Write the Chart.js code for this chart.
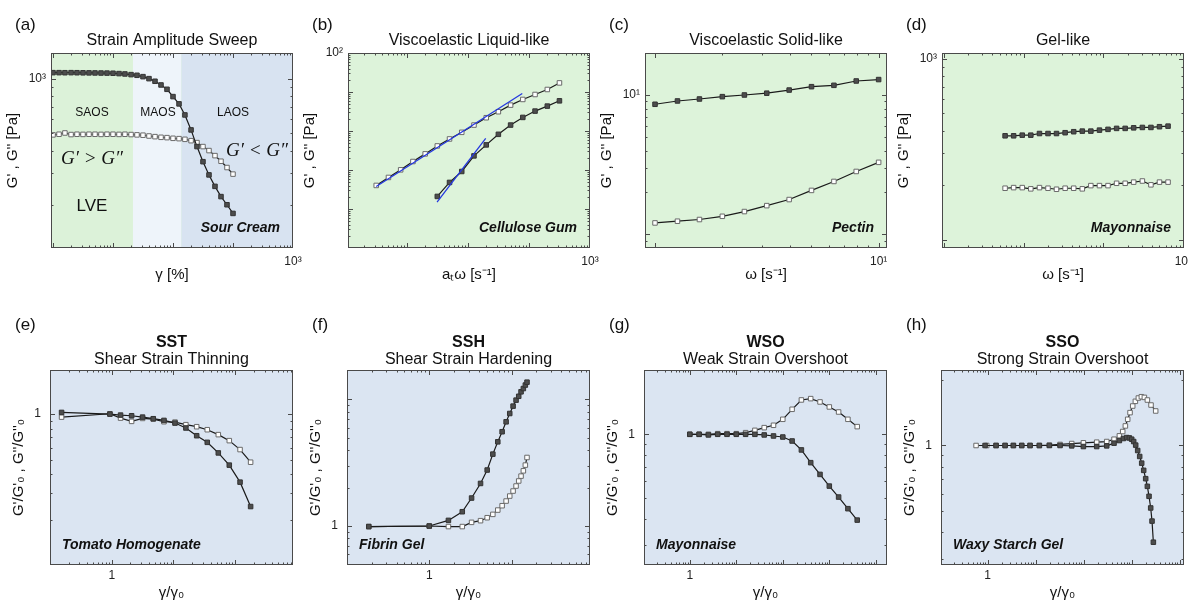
<!DOCTYPE html>
<html>
<head>
<meta charset="utf-8">
<script src="https://cdn.jsdelivr.net/npm/chart.js@4.4.1/dist/chart.umd.min.js"></script>
<style>
  body { margin: 0; background: #fff; width: 1188px; height: 606px; overflow: hidden; position: relative; }
  .panel { position: absolute; width: 305px; height: 303px; }
</style>
</head>
<body>
<div class="panel" style="left:0;top:0"><canvas id="pa" width="305" height="303"></canvas></div>
<div class="panel" style="left:297px;top:0"><canvas id="pb" width="305" height="303"></canvas></div>
<div class="panel" style="left:594px;top:0"><canvas id="pc" width="305" height="303"></canvas></div>
<div class="panel" style="left:891px;top:0"><canvas id="pd" width="305" height="303"></canvas></div>
<div class="panel" style="left:0;top:303px"><canvas id="pe" width="305" height="303"></canvas></div>
<div class="panel" style="left:297px;top:303px"><canvas id="pf" width="305" height="303"></canvas></div>
<div class="panel" style="left:594px;top:303px"><canvas id="pg" width="305" height="303"></canvas></div>
<div class="panel" style="left:891px;top:303px"><canvas id="ph" width="305" height="303"></canvas></div>
<script>
// ================= DATA =================
// (a) strain amplitude sweep - sour cream
const aStrain = [0.1, 0.126, 0.158, 0.2, 0.251, 0.316, 0.398, 0.501, 0.631, 0.794, 1, 1.26, 1.58, 2, 2.51, 3.16, 3.98, 5.01, 6.31, 7.94, 10, 12.6, 15.8, 20, 25.1, 31.6, 39.8, 50.1, 63.1, 79.4, 100];
const aGp = [1084, 1084, 1083, 1084, 1083, 1082, 1081, 1080, 1079, 1078, 1076, 1071, 1066, 1057, 1048, 1030, 1004, 971, 926, 876, 798, 727, 631, 521, 421, 347, 293, 253, 222, 200, 179];
const aGpp = [489, 493, 501, 491, 493, 492, 493, 493, 492, 493, 493, 492, 493, 491, 489, 487, 482, 478, 474, 472, 468, 466, 462, 454, 443, 421, 400, 375, 349, 322, 296];
const aZones = [2.15, 13.8]; // SAOS | MAOS | LAOS limits

// (b) viscoelastic liquid-like - cellulose gum
const bFreq = [0.316, 0.501, 0.794, 1.26, 2.0, 3.16, 5.01, 7.94, 12.6, 20.0, 31.6, 50.1, 79.4, 126, 200, 316];
const bGpp = [0.0402, 0.0644, 0.101, 0.165, 0.259, 0.414, 0.625, 0.925, 1.42, 2.19, 3.12, 4.61, 6.44, 8.63, 11.6, 17.1];
const bGp = [0.021, 0.048, 0.0916, 0.23, 0.44, 0.822, 1.42, 2.23, 3.24, 4.35, 5.94];
const bSlope1X = [0.316, 77.8];
const bSlope1Y = [0.0379, 9.16];
const bSlope2X = [3.13, 19.6];
const bSlope2Y = [0.0151, 0.65];

// (c) viscoelastic solid-like - pectin
const cFreq = [1, 1.26, 1.58, 2.0, 2.51, 3.16, 3.98, 5.01, 6.31, 7.94, 10];
const cGp = [8.58, 9.06, 9.36, 9.73, 10.0, 10.3, 10.85, 11.47, 11.73, 12.6, 12.9];
const cGpp = [1.21, 1.245, 1.28, 1.35, 1.46, 1.61, 1.78, 2.07, 2.40, 2.83, 3.29];

// (d) gel-like - mayonnaise
const dFreq = [0.0586, 0.075, 0.0961, 0.123, 0.158, 0.202, 0.258, 0.331, 0.424, 0.543, 0.695, 0.891, 1.14, 1.46, 1.87, 2.39, 3.07, 3.93, 5.03, 6.44];
const dGp = [375, 375, 378, 378, 386, 386, 386, 390, 395, 398, 398, 403, 407, 412, 412, 415, 417, 417, 421, 424];
const dGpp = [192.5, 194, 194, 191, 194, 192.5, 190, 192.5, 192.5, 191, 199, 199, 199, 205, 205, 208, 211, 201, 208, 208];

// (e) SST - tomato homogenate
const eStrain = [0.154, 0.935, 1.39, 2.10, 3.16, 4.71, 7.02, 10.6, 15.9, 23.8, 35.3, 53.3, 80.3, 120, 178];
const eGp = [1.026, 1.0, 0.985, 0.975, 0.955, 0.932, 0.908, 0.872, 0.809, 0.719, 0.65, 0.553, 0.459, 0.354, 0.244];
const eGpp = [0.955, 1.005, 0.941, 0.895, 0.936, 0.927, 0.89, 0.885, 0.851, 0.825, 0.788, 0.731, 0.667, 0.582, 0.48];

// (f) SSH - fibrin gel
const fStrain = [0.184, 1.0, 1.71, 2.52, 3.27, 4.20, 5.06, 5.93, 6.81, 7.69, 8.60, 9.52, 10.45, 11.36, 12.24, 13.06, 13.93, 14.73, 15.43];
const fGp = [0.99, 1.0, 1.108, 1.297, 1.664, 2.17, 2.77, 3.70, 4.63, 5.56, 6.66, 7.75, 8.86, 9.88, 10.6, 11.5, 12.2, 13.0, 13.7];
const fGpp = [0.99, 1.0, 0.99, 0.99, 1.069, 1.102, 1.163, 1.236, 1.337, 1.447, 1.575, 1.725, 1.89, 2.07, 2.27, 2.48, 2.73, 3.03, 3.48];

// (g) WSO - mayonnaise
const gStrain = [1, 1.585, 2.51, 3.98, 6.31, 10, 15.85, 25.1, 39.8, 63.1, 100, 158.5, 251, 398, 631, 1000, 1585, 2512, 3981];
const gGp = [1.0, 1.0, 0.993, 1.0, 1.0, 1.0, 1.0, 1.0, 0.993, 0.982, 0.971, 0.93, 0.844, 0.735, 0.647, 0.57, 0.506, 0.446, 0.394];
const gGpp = [1.0, 1.0, 1.0, 1.007, 1.007, 1.007, 1.018, 1.044, 1.075, 1.103, 1.177, 1.312, 1.452, 1.473, 1.421, 1.346, 1.274, 1.177, 1.087];

// (h) SSO - waxy starch gel
const hStrainGp = [0.887, 1.503, 2.316, 3.45, 5.15, 7.68, 12.0, 19.4, 32.4, 56.7, 99.3, 188, 304, 432, 558, 676, 793, 901, 1008, 1109, 1221, 1343, 1479, 1628, 1792, 1972, 2138, 2316, 2508, 2674, 2851];
const hGp = [1, 1, 1, 1, 1, 1, 1, 1, 1, 0.996, 0.989, 0.989, 0.996, 1.025, 1.054, 1.077, 1.088, 1.084, 1.069, 1.043, 1.004, 0.948, 0.89, 0.829, 0.768, 0.703, 0.648, 0.583, 0.515, 0.448, 0.358];
const hStrainGpp = [0.576, 0.961, 1.503, 2.316, 3.45, 5.15, 7.68, 12.0, 19.4, 32.4, 56.7, 99.3, 188, 304, 432, 558, 655, 744, 832, 931, 1058, 1202, 1388, 1603, 1851, 2138, 2548, 3187];
const hGpp = [1, 1, 1, 1, 1, 1, 1, 1, 1.004, 1.011, 1.021, 1.029, 1.036, 1.043, 1.069, 1.108, 1.16, 1.231, 1.321, 1.418, 1.521, 1.599, 1.656, 1.679, 1.667, 1.621, 1.537, 1.443];

// ================= STYLE =================
const FONT = '"Liberation Sans", Arial, sans-serif';
Chart.defaults.font.family = FONT;
Chart.defaults.color = '#111';
Chart.defaults.animation = false;

const GREEN = '#ddf3da';
const BLUE = '#dbe5f2';
const SUP = { 1: '1', 10: '10\u00b9', 100: '10\u00b2', 1000: '10\u00b3' };

const filled = { showLine: true, borderColor: '#1a1a1a', borderWidth: 1.2, tension: 0, pointStyle: 'rect', pointRadius: 3.2, pointBackgroundColor: '#4d4d4d', pointBorderColor: '#333', pointBorderWidth: 1 };
const open = { ...filled, pointBackgroundColor: '#fff', pointBorderColor: '#6a6a6a' };
const fit = { showLine: true, borderColor: '#2438e0', borderWidth: 1.3, pointRadius: 0, tension: 0 };

const pts = (xs, ys) => ys.map((y, i) => ({ x: xs[i], y }));

// log tick marks for the frame
function logMarks(min, max) {
  const out = [];
  for (let d = Math.floor(Math.log10(min)); d <= Math.ceil(Math.log10(max)); d++) {
    for (let m = 1; m < 10; m++) {
      const v = m * Math.pow(10, d);
      if (v > min * 1.0001 && v < max * 0.9999) out.push({ v, major: m === 1 });
    }
  }
  return out;
}

// background, frame, inner ticks and notes
const deco = {
  id: 'deco',
  beforeDraw(chart, args, o) {
    const { ctx, chartArea: a } = chart;
    ctx.save();
    ctx.fillStyle = o.bg;
    ctx.fillRect(a.left, a.top, a.width, a.height);
    if (o.zones) {
      const x = chart.scales.x;
      const x1 = x.getPixelForValue(o.zones[0]);
      const x2 = x.getPixelForValue(o.zones[1]);
      ctx.fillStyle = '#dcf2d9';
      ctx.fillRect(a.left, a.top, x1 - a.left, a.height);
      ctx.fillStyle = '#eef4fa';
      ctx.fillRect(x1, a.top, x2 - x1, a.height);
      ctx.fillStyle = '#d8e3f1';
      ctx.fillRect(x2, a.top, a.right - x2, a.height);
    }
    ctx.restore();
  },
  afterDatasetsDraw(chart, args, o) {
    const { ctx, chartArea: a, scales: { x, y } } = chart;
    ctx.save();
    ctx.strokeStyle = '#4a4a4a';
    ctx.lineWidth = 1;
    ctx.beginPath();
    logMarks(x.min, x.max).forEach(t => {
      const p = Math.round(x.getPixelForValue(t.v)) + 0.5, l = t.major ? 5 : 2.5;
      ctx.moveTo(p, a.bottom); ctx.lineTo(p, a.bottom - l);
      ctx.moveTo(p, a.top); ctx.lineTo(p, a.top + l);
    });
    logMarks(y.min, y.max).forEach(t => {
      const p = Math.round(y.getPixelForValue(t.v)) + 0.5, l = t.major ? 5 : 2.5;
      ctx.moveTo(a.left, p); ctx.lineTo(a.left + l, p);
      ctx.moveTo(a.right, p); ctx.lineTo(a.right - l, p);
    });
    ctx.stroke();
    ctx.strokeRect(Math.round(a.left) + 0.5, Math.round(a.top) + 0.5, Math.round(a.width) - 1, Math.round(a.height) - 1);

    ctx.fillStyle = '#111';
    ctx.textBaseline = 'middle';
    // panel letter
    ctx.font = '17px ' + FONT;
    ctx.textAlign = 'left';
    ctx.fillText(o.letter, 15, o.letterY);
    // sample name
    ctx.font = 'italic bold 14px ' + FONT;
    if (o.nameLeft) {
      ctx.textAlign = 'left';
      ctx.fillText(o.name, a.left + 12, a.bottom - 20);
    } else {
      ctx.textAlign = 'right';
      ctx.fillText(o.name, a.right - 13, a.bottom - 20);
    }
    // extra notes
    (o.notes || []).forEach(n => {
      ctx.font = n.font;
      ctx.textAlign = 'center';
      ctx.fillText(n.t, n.x, n.y);
    });
    ctx.restore();
  }
};
Chart.register(deco);

function logAxis(min, max, marks, title, o) {
  return {
    type: 'logarithmic', min, max,
    grid: { display: false, drawTicks: false },
    border: { display: false },
    afterBuildTicks: s => { s.ticks = marks.map(v => ({ value: v })); },
    ticks: { autoSkip: false, maxRotation: 0, padding: o.tickPad, font: { size: 12 }, color: '#222', callback: v => SUP[v] || String(v) },
    title: { display: true, text: title, font: { size: 15 }, padding: o.titlePad, color: '#111' },
    afterFit: s => {
      if (o.width) { s.width = o.width; s.paddingTop = 0; s.paddingBottom = 0; }
      else { s.height = o.height; s.paddingLeft = 0; s.paddingRight = 0; }
    }
  };
}

function panel(id, p) {
  const top = p.row === 1;
  const titles = top
    ? { title: { display: true, text: p.title, fullSize: false, font: { size: 16, weight: 'normal', lineHeight: 1.2 }, padding: { top: 31.4, bottom: 2.4 }, color: '#111' } }
    : {
        title: { display: true, text: p.title, fullSize: false, font: { size: 16, weight: 'bold', lineHeight: 1 }, padding: { top: 32, bottom: 0 }, color: '#111' },
        subtitle: { display: true, text: p.subtitle, fullSize: false, font: { size: 16, lineHeight: 1 }, padding: { top: 1, bottom: 2 }, color: '#111' }
      };
  new Chart(document.getElementById(id), {
    type: 'scatter',
    data: { datasets: p.datasets },
    options: {
      responsive: false,
      events: [],
      layout: { padding: { left: 0, right: 12, top: 0, bottom: 0 } },
      plugins: Object.assign({ legend: { display: false }, tooltip: { enabled: false }, deco: p.deco }, titles),
      scales: {
        x: logAxis(p.x[0], p.x[1], p.xMarks, p.xTitle, top
          ? { height: 55, tickPad: 6.5, titlePad: { top: 0, bottom: 19 } }
          : { height: 41, tickPad: 3, titlePad: { top: 0, bottom: 4 } }),
        y: logAxis(p.y[0], p.y[1], p.yMarks, p.yTitle, top
          ? { width: 51, tickPad: 5, titlePad: { top: 4, bottom: 0 } }
          : { width: 50, tickPad: 9, titlePad: { top: 10, bottom: 0 } })
      }
    }
  });
}

const Y1 = "G' , G'' [Pa]";
const Y2 = "G'/G'\u2080 , G''/G''\u2080";
const X2 = '\u03b3/\u03b3\u2080';

// ================= ROW 1 =================
panel('pa', {
  row: 1, title: 'Strain Amplitude Sweep',
  x: [0.0926, 1000], xMarks: [1000], xTitle: '\u03b3 [%]',
  y: [115, 1394], yMarks: [1000], yTitle: Y1,
  datasets: [
    { label: "G'", data: pts(aStrain, aGp), ...filled },
    { label: "G''", data: pts(aStrain, aGpp), ...open }
  ],
  deco: {
    letter: '(a)', letterY: 25, bg: GREEN, zones: aZones, name: 'Sour Cream',
    notes: [
      { t: 'SAOS', x: 92, y: 113, font: '12px ' + FONT },
      { t: 'MAOS', x: 158, y: 113, font: '12px ' + FONT },
      { t: 'LAOS', x: 233, y: 113, font: '12px ' + FONT },
      { t: 'G\u2032 > G\u2033', x: 92, y: 159, font: 'italic 19px "Liberation Serif", "Times New Roman", serif' },
      { t: 'G\u2032 < G\u2033', x: 257, y: 151, font: 'italic 19px "Liberation Serif", "Times New Roman", serif' },
      { t: 'LVE', x: 92, y: 206, font: '17px ' + FONT }
    ]
  }
});

panel('pb', {
  row: 1, title: 'Viscoelastic Liquid-like',
  x: [0.109, 1000], xMarks: [1000], xTitle: 'a\u209c\u03c9 [s\u207b\u00b9]',
  y: [0.001, 100], yMarks: [100], yTitle: Y1,
  datasets: [
    { label: 'slope 1', data: pts(bSlope1X, bSlope1Y), ...fit },
    { label: 'slope 2', data: pts(bSlope2X, bSlope2Y), ...fit },
    { label: "G'", data: pts(bFreq.slice(bFreq.length - bGp.length), bGp), ...filled },
    { label: "G''", data: pts(bFreq, bGpp), ...open }
  ],
  deco: { letter: '(b)', letterY: 25, bg: GREEN, name: 'Cellulose Gum' }
});

panel('pc', {
  row: 1, title: 'Viscoelastic Solid-like',
  x: [0.902, 10.9], xMarks: [10], xTitle: '\u03c9 [s\u207b\u00b9]',
  y: [0.8, 20], yMarks: [10], yTitle: Y1,
  datasets: [
    { label: "G'", data: pts(cFreq, cGp), ...filled },
    { label: "G''", data: pts(cFreq, cGpp), ...open }
  ],
  deco: { letter: '(c)', letterY: 25, bg: GREEN, name: 'Pectin' }
});

panel('pd', {
  row: 1, title: 'Gel-like',
  x: [0.0095, 10.2], xMarks: [10], xTitle: '\u03c9 [s\u207b\u00b9]',
  y: [90, 1075], yMarks: [1000], yTitle: Y1,
  datasets: [
    { label: "G'", data: pts(dFreq, dGp), ...filled },
    { label: "G''", data: pts(dFreq, dGpp), ...open }
  ],
  deco: { letter: '(d)', letterY: 25, bg: GREEN, name: 'Mayonnaise' }
});

// ================= ROW 2 =================
panel('pe', {
  row: 2, title: 'SST', subtitle: 'Shear Strain Thinning',
  x: [0.1, 865], xMarks: [1], xTitle: X2,
  y: [0.1, 1.96], yMarks: [1], yTitle: Y2,
  datasets: [
    { label: "G'/G'0", data: pts(eStrain, eGp), ...filled },
    { label: "G''/G''0", data: pts(eStrain, eGpp), ...open }
  ],
  deco: { letter: '(e)', letterY: 22, bg: BLUE, name: 'Tomato Homogenate', nameLeft: true }
});

panel('pf', {
  row: 2, title: 'SSH', subtitle: 'Shear Strain Hardening',
  x: [0.1, 90], xMarks: [1], xTitle: X2,
  y: [0.492, 17.1], yMarks: [1], yTitle: Y2,
  datasets: [
    { label: "G'/G'0", data: pts(fStrain, fGp), ...filled },
    { label: "G''/G''0", data: pts(fStrain, fGpp), ...open }
  ],
  deco: { letter: '(f)', letterY: 22, bg: BLUE, name: 'Fibrin Gel', nameLeft: true }
});

panel('pg', {
  row: 2, title: 'WSO', subtitle: 'Weak Strain Overshoot',
  x: [0.1035, 17400], xMarks: [1], xTitle: X2,
  y: [0.242, 2.01], yMarks: [1], yTitle: Y2,
  datasets: [
    { label: "G'/G'0", data: pts(gStrain, gGp), ...filled },
    { label: "G''/G''0", data: pts(gStrain, gGpp), ...open }
  ],
  deco: { letter: '(g)', letterY: 22, bg: BLUE, name: 'Mayonnaise', nameLeft: true }
});

panel('ph', {
  row: 2, title: 'SSO', subtitle: 'Strong Strain Overshoot',
  x: [0.107, 12400], xMarks: [1], xTitle: X2,
  y: [0.281, 2.23], yMarks: [1], yTitle: Y2,
  datasets: [
    { label: "G'/G'0", data: pts(hStrainGp, hGp), ...filled },
    { label: "G''/G''0", data: pts(hStrainGpp, hGpp), ...open }
  ],
  deco: { letter: '(h)', letterY: 22, bg: BLUE, name: 'Waxy Starch Gel', nameLeft: true }
});
</script>
</body>
</html>
